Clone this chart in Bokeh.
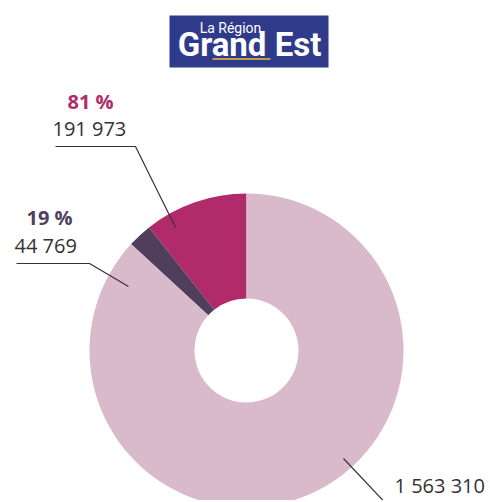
import math
from bokeh.plotting import figure
from bokeh.models import Range1d, ColumnDataSource
from bokeh.core.properties import value
from bokeh.embed import file_html
from bokeh.resources import INLINE

# ---- data ----
values = [191973, 44769, 1563310]
value_labels = ["191 973", "44 769", "1 563 310"]
pct_labels = ["81 %", "19 %"]
colors = ["#B12A6A", "#4F3F5C", "#D9BACB"]
pct_colors = ["#B12A6A", "#4F3F5C"]

W, H = 488, 500
H_PAGE = 502

def Y(ys):  # screen y -> data y
    return H_PAGE - ys

p = figure(width=W, height=H, output_backend="svg", toolbar_location=None,
           x_range=Range1d(0, W), y_range=Range1d(Y(H), Y(0)),
           min_border=0)
p.axis.visible = False
p.grid.visible = False
p.outline_line_color = None
p.background_fill_color = "white"

# ---- donut ----
total = sum(values)
starts, ends = [], []
a = math.pi / 2
for v in values:
    starts.append(a)
    a += 2 * math.pi * v / total
    ends.append(a)
src = ColumnDataSource(dict(start=starts, end=ends, color=colors))
cx, cy = 246, Y(350)
p.annular_wedge(x=cx, y=cy, inner_radius=52, outer_radius=157,
                start_angle="start", end_angle="end", fill_color="color",
                line_color=None, source=src)

# ---- leader lines ----
lc = "#333333"
p.line(x=[55, 135, 175], y=[Y(146), Y(146), Y(227)], line_color=lc, line_width=1.2)
p.line(x=[16, 89, 128], y=[Y(263), Y(263), Y(286)], line_color=lc, line_width=1.2)
p.line(x=[343, 392], y=[Y(458), Y(510)], line_color=lc, line_width=1.2)

# ---- labels ----
font = value("Open Sans")
p.text(x=[67], y=[Y(101)], text=[pct_labels[0]], text_color=pct_colors[0],
       text_font=font, text_font_style="bold", text_font_size="20px",
       text_align="left", text_baseline="middle")
p.text(x=[52], y=[Y(128)], text=[value_labels[0]], text_color="#333333",
       text_font=font, text_font_size="20px",
       text_align="left", text_baseline="middle")
p.text(x=[26], y=[Y(217)], text=[pct_labels[1]], text_color=pct_colors[1],
       text_font=font, text_font_style="bold", text_font_size="20px",
       text_align="left", text_baseline="middle")
p.text(x=[14], y=[Y(245)], text=[value_labels[1]], text_color="#333333",
       text_font=font, text_font_size="20px",
       text_align="left", text_baseline="middle")
p.text(x=[394], y=[Y(485)], text=[value_labels[2]], text_color="#333333",
       text_font=font, text_font_size="20px",
       text_align="left", text_baseline="middle")

# ---- logo ----
p.quad(left=169, right=328, top=Y(15), bottom=Y(67), fill_color="#2F3A8A", line_color=None)
p.text(x=[230], y=[Y(27)], text=["La Région"], text_color="white",
       text_font=value("Roboto"), text_font_size="14px",
       text_align="center", text_baseline="middle")
p.text(x=[249], y=[Y(44)], text=["Grand Est"], text_color="white",
       text_font=value("Roboto"), text_font_style="bold", text_font_size="33px",
       text_align="center", text_baseline="middle")
p.line(x=[212, 270], y=[Y(58.5), Y(58.5)], line_color="#F2C230", line_width=1.5)

open("out.html", "w").write(file_html(p, INLINE))
